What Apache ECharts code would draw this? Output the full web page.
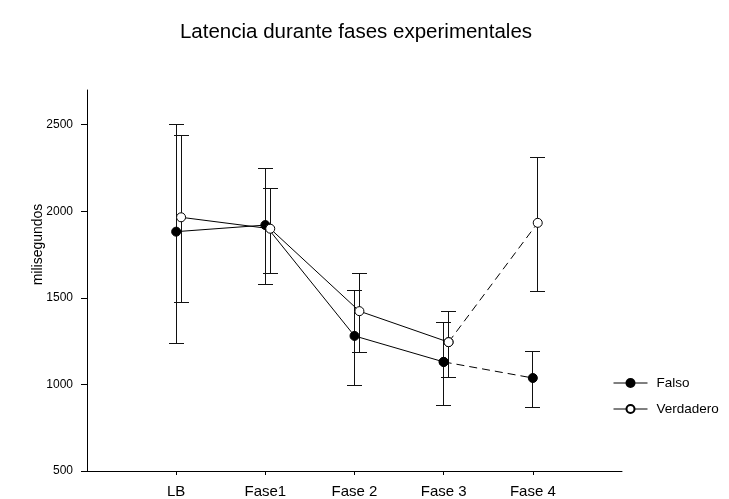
<!DOCTYPE html>
<html><head><meta charset="utf-8">
<script src="https://cdn.jsdelivr.net/npm/echarts@6/dist/echarts.min.js"></script>
<style>html,body{margin:0;padding:0;background:#fff}#c{width:729px;height:499px}</style>
</head><body><div id="c"></div>
<script>
const categories = ['LB', 'Fase1', 'Fase 2', 'Fase 3', 'Fase 4'];
const falsoMean  = [1882, 1920, 1280, 1130, 1037];
const falsoUpper = [2502, 2244, 1542, 1356, 1188];
const falsoLower = [1238, 1575, 992, 879, 866];
const verdMean   = [1965, 1899, 1423, 1244, 1933];
const verdUpper  = [2439, 2130, 1640, 1422, 2310];
const verdLower  = [1471, 1642, 1184, 1042, 1537];
const yTicks = [500, 1000, 1500, 2000, 2500];
const xTicks = [1, 2, 3, 4, 5];

const FONT = '"Liberation Sans", Arial, sans-serif';
const offF = 0, offV = 0.055;

function pts(mean, off, from, to) {
  const r = [];
  for (let i = from; i <= to; i++) r.push([i + 1 + off, mean[i]]);
  return r;
}
function errData(lo, hi, off) { return lo.map((l, i) => [i + 1 + off, l, hi[i]]); }
function crisp(v) { return Math.round(v - 0.5) + 0.5; }
function errRender(params, api) {
  const x = api.value(0), lo = api.value(1), hi = api.value(2);
  const pLo = api.coord([x, lo]), pHi = api.coord([x, hi]);
  const cx = crisp(pLo[0]), yl = crisp(pLo[1]), yh = crisp(pHi[1]);
  const w = 7.5;
  const style = { stroke: '#111', lineWidth: 1 };
  return { type: 'group', children: [
    { type: 'line', shape: { x1: cx, y1: yl, x2: cx, y2: yh }, style },
    { type: 'line', shape: { x1: cx - w, y1: yl, x2: cx + w, y2: yl }, style },
    { type: 'line', shape: { x1: cx - w, y1: yh, x2: cx + w, y2: yh }, style }
  ]};
}

const chart = echarts.init(document.getElementById('c'), null, { renderer: 'canvas' });
const filled = { color: '#000', borderColor: '#000', borderWidth: 1 };
const hollow = { color: '#fff', borderColor: '#000', borderWidth: 1 };
chart.setOption({
  animation: false,
  backgroundColor: '#fff',
  textStyle: { fontFamily: FONT, color: '#000' },
  title: {
    text: 'Latencia durante fases experimentales',
    left: 351, top: 17, textAlign: 'center',
    textStyle: { fontFamily: FONT, fontSize: 20.5, fontWeight: 'normal', color: '#000' }
  },
  legend: {
    orient: 'vertical', left: 608, top: 371,
    itemWidth: 34, itemHeight: 10, itemGap: 12,
    data: ['Falso', 'Verdadero'],
    lineStyle: { width: 1, color: '#000' },
    textStyle: { fontFamily: FONT, fontSize: 13.5, color: '#000', padding: [0, 0, 0, 4] }
  },
  grid: { left: 87, right: 107, top: 90, bottom: 26.3, containLabel: false },
  xAxis: {
    type: 'value', min: 0, max: 6,
    axisLine: { lineStyle: { color: '#000', width: 1 } },
    axisTick: { customValues: xTicks, length: 4, lineStyle: { color: '#000' } },
    axisLabel: { customValues: xTicks, formatter: v => categories[Math.round(v) - 1] || '', margin: 13, fontFamily: FONT, fontSize: 15, color: '#000' },
    splitLine: { show: false }
  },
  yAxis: {
    type: 'value', min: 500, max: 2700,
    name: 'milisegundos', nameLocation: 'middle', nameGap: 42, nameMoveOverlap: false,
    nameTextStyle: { fontFamily: FONT, fontSize: 14, color: '#000', padding: [0, 0, 0, 72] },
    axisLine: { show: true, lineStyle: { color: '#000', width: 1 } },
    axisTick: { show: true, customValues: yTicks, length: 6, lineStyle: { color: '#000' } },
    axisLabel: { customValues: yTicks, formatter: v => String(v), margin: 14, fontFamily: FONT, fontSize: 12, color: '#000' },
    splitLine: { show: false }
  },
  series: [
    { type: 'custom', name: 'errF', renderItem: errRender, data: errData(falsoLower, falsoUpper, offF), encode: { x: 0, y: [1, 2] }, z: 1, silent: true },
    { type: 'custom', name: 'errV', renderItem: errRender, data: errData(verdLower, verdUpper, offV), encode: { x: 0, y: [1, 2] }, z: 1, silent: true },
    { type: 'line', name: 'Falso', data: pts(falsoMean, offF, 0, 3), symbol: 'circle', symbolSize: 9, itemStyle: filled, lineStyle: { color: '#000', width: 1 }, z: 3 },
    { type: 'line', name: 'Falso', data: pts(falsoMean, offF, 3, 4), symbol: 'circle', symbolSize: 9, itemStyle: filled, lineStyle: { color: '#000', width: 1, type: [8, 5] }, z: 3 },
    { type: 'line', name: 'Verdadero', data: pts(verdMean, offV, 0, 3), symbol: 'circle', symbolSize: 9, itemStyle: hollow, lineStyle: { color: '#000', width: 1 }, z: 4 },
    { type: 'line', name: 'Verdadero', data: pts(verdMean, offV, 3, 4), symbol: 'circle', symbolSize: 9, itemStyle: hollow, lineStyle: { color: '#000', width: 1, type: [8, 5] }, z: 4 }
  ]
});
</script></body></html>
